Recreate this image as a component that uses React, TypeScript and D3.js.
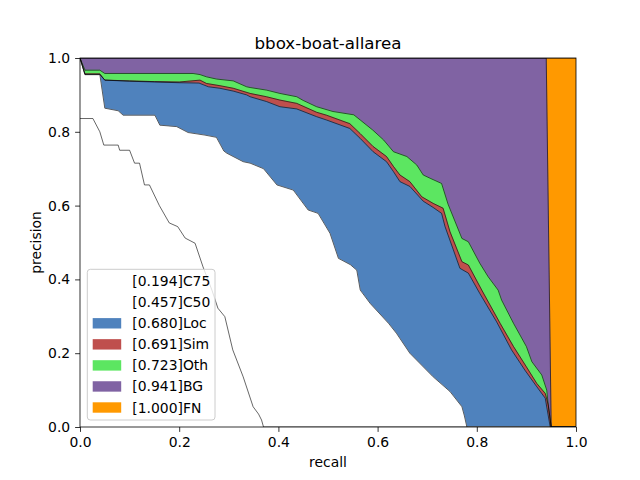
import React, { useRef, useEffect } from 'react';
import * as d3 from 'd3';

type Pt = [number, number];

// [recall, precision] points, cumulative curves
const c75: Pt[] = [
  [0, 0.836], [0.026, 0.836], [0.04, 0.8], [0.048, 0.764], [0.077, 0.764], [0.08, 0.75],
  [0.1, 0.75], [0.11, 0.715], [0.12, 0.715], [0.13, 0.656], [0.14, 0.656], [0.16, 0.6],
  [0.18, 0.553], [0.197, 0.543], [0.212, 0.512], [0.232, 0.498], [0.248, 0.434],
  [0.266, 0.371], [0.278, 0.322], [0.292, 0.299], [0.308, 0.209], [0.329, 0.136],
  [0.349, 0.055], [0.36, 0.035], [0.366, 0.019], [0.37, 0], [1, 0],
];
const c50: Pt[] = [
  [0, 1], [0.01, 0.955], [0.04, 0.955], [0.05, 0.864], [0.077, 0.857], [0.087, 0.845],
  [0.151, 0.845], [0.161, 0.818], [0.195, 0.814], [0.218, 0.798], [0.252, 0.791],
  [0.275, 0.785], [0.29, 0.748], [0.296, 0.742], [0.329, 0.719], [0.343, 0.715], [0.37, 0.7],
  [0.397, 0.656], [0.43, 0.642], [0.46, 0.588], [0.48, 0.579], [0.504, 0.525],
  [0.521, 0.457], [0.545, 0.44], [0.558, 0.425], [0.565, 0.371], [0.585, 0.335],
  [0.622, 0.281], [0.638, 0.254], [0.665, 0.2], [0.712, 0.136], [0.746, 0.096],
  [0.77, 0.055], [0.775, 0.03], [0.78, 0], [1, 0],
];
const loc: Pt[] = [
  [0, 1], [0.01, 0.955], [0.04, 0.955], [0.05, 0.94], [0.1, 0.937], [0.15, 0.935],
  [0.2, 0.933], [0.24, 0.932], [0.259, 0.922], [0.282, 0.918], [0.31, 0.91],
  [0.336, 0.9], [0.343, 0.895], [0.376, 0.882], [0.403, 0.868], [0.437, 0.862],
  [0.477, 0.841], [0.497, 0.832], [0.544, 0.809], [0.565, 0.782], [0.591, 0.746],
  [0.618, 0.719], [0.632, 0.692], [0.645, 0.665], [0.665, 0.652], [0.692, 0.612],
  [0.712, 0.595], [0.729, 0.579], [0.736, 0.543], [0.766, 0.43], [0.783, 0.417],
  [0.806, 0.362], [0.84, 0.285], [0.87, 0.209], [0.897, 0.154], [0.921, 0.109],
  [0.938, 0.078], [0.948, 0], [1, 0],
];
const sim: Pt[] = [
  [0, 1], [0.01, 0.957], [0.04, 0.957], [0.05, 0.94], [0.1, 0.938], [0.15, 0.936],
  [0.2, 0.935], [0.242, 0.94], [0.255, 0.931], [0.282, 0.925], [0.309, 0.918],
  [0.343, 0.904], [0.376, 0.895], [0.403, 0.886], [0.437, 0.877], [0.477, 0.853],
  [0.497, 0.845], [0.544, 0.822], [0.565, 0.795], [0.591, 0.76], [0.618, 0.733],
  [0.632, 0.706], [0.645, 0.683], [0.665, 0.665], [0.689, 0.624], [0.712, 0.606],
  [0.732, 0.593], [0.746, 0.529], [0.77, 0.448], [0.783, 0.439], [0.81, 0.371],
  [0.847, 0.281], [0.874, 0.218], [0.9, 0.163], [0.921, 0.118], [0.938, 0.091],
  [0.944, 0.06], [0.95, 0], [1, 0],
];
const oth: Pt[] = [
  [0, 1], [0.01, 0.967], [0.04, 0.967], [0.05, 0.958], [0.228, 0.958], [0.242, 0.955],
  [0.255, 0.949], [0.275, 0.943], [0.309, 0.938], [0.336, 0.922], [0.343, 0.92],
  [0.376, 0.913], [0.403, 0.904], [0.437, 0.895], [0.45, 0.885], [0.477, 0.868],
  [0.51, 0.855], [0.552, 0.846], [0.565, 0.832], [0.59, 0.805], [0.612, 0.778],
  [0.632, 0.746], [0.659, 0.733], [0.679, 0.71], [0.692, 0.683], [0.706, 0.674],
  [0.729, 0.66], [0.742, 0.604], [0.77, 0.511], [0.783, 0.502], [0.806, 0.444],
  [0.823, 0.407], [0.843, 0.371], [0.85, 0.344], [0.874, 0.281], [0.9, 0.218],
  [0.911, 0.177], [0.931, 0.141], [0.941, 0.1], [0.944, 0.06], [0.95, 0], [1, 0],
];
const bg: Pt[] = [[0, 1], [0.94, 1], [0.95, 0], [1, 0]];
const fn: Pt[] = [[0, 1], [1, 1]];

const seriesNames = ['C75', 'C50', 'Loc', 'Sim', 'Oth', 'BG', 'FN'];
const seriesScores = ['0.194', '0.457', '0.680', '0.691', '0.723', '0.941', '1.000'];
const seriesColors = ['#ffffff', '#ffffff', '#4f82bd', '#bf4f4d', '#5ce661', '#8063a3', '#ff9900'];
const curves = [c75, c50, loc, sim, oth, bg, fn];
const tickValues = [0, 0.2, 0.4, 0.6, 0.8, 1.0];

const W = 640;
const H = 480;
const FONT = 'DejaVu Sans, sans-serif';

const PRChart: React.FC = () => {
  const svgRef = useRef<SVGSVGElement | null>(null);
  const margin = { top: 58, right: 64, bottom: 53, left: 80 };

  useEffect(() => {
    if (!svgRef.current) return;
    const svg = d3.select(svgRef.current);
    svg.selectAll('*').remove();

    const x = d3.scaleLinear().domain([0, 1]).range([margin.left, W - margin.right]);
    const y = d3.scaleLinear().domain([0, 1]).range([H - margin.bottom, margin.top]);

    svg.append('defs').append('clipPath').attr('id', 'plotclip')
      .append('rect')
      .attr('x', x(0)).attr('y', y(1))
      .attr('width', x(1) - x(0)).attr('height', y(0) - y(1));

    const plot = svg.append('g').attr('clip-path', 'url(#plotclip)');

    const area = d3.area<Pt>().x(d => x(d[0])).y0(y(0)).y1(d => y(d[1]));
    const line = d3.line<Pt>().x(d => x(d[0])).y(d => y(d[1]));

    // painter's order: largest cumulative curve first
    for (let k = curves.length - 1; k >= 0; k--) {
      plot.append('path')
        .attr('d', area(curves[k])!)
        .attr('fill', seriesColors[k])
        .attr('stroke', seriesColors[k])
        .attr('stroke-width', 0.6);
    }
    curves.forEach(c => {
      plot.append('path')
        .attr('d', line(c)!)
        .attr('fill', 'none')
        .attr('stroke', '#000')
        .attr('stroke-width', 0.6);
    });

    // axes
    const fmt = d3.format('.1f');
    const xAxis = svg.append('g')
      .attr('transform', `translate(0,${y(0)})`)
      .call(d3.axisBottom(x).tickValues(tickValues).tickFormat(d => fmt(d as number)).tickSize(4.9).tickPadding(4.9));
    const yAxis = svg.append('g')
      .attr('transform', `translate(${x(0)},0)`)
      .call(d3.axisLeft(y).tickValues(tickValues).tickFormat(d => fmt(d as number)).tickSize(4.9).tickPadding(4.9));
    [xAxis, yAxis].forEach(a => {
      a.select('.domain').remove();
      a.selectAll('line').attr('stroke', '#000').attr('stroke-width', 0.8);
      a.selectAll('text').attr('font-family', FONT).attr('font-size', 13.9).attr('fill', '#000');
    });

    svg.append('rect')
      .attr('x', x(0)).attr('y', y(1))
      .attr('width', x(1) - x(0)).attr('height', y(0) - y(1))
      .attr('fill', 'none').attr('stroke', '#000').attr('stroke-width', 0.8);

    svg.append('text')
      .attr('x', (x(0) + x(1)) / 2).attr('y', 49)
      .attr('text-anchor', 'middle')
      .attr('font-family', FONT).attr('font-size', 16.7)
      .text('bbox-boat-allarea');

    svg.append('text')
      .attr('x', (x(0) + x(1)) / 2).attr('y', 467)
      .attr('text-anchor', 'middle')
      .attr('font-family', FONT).attr('font-size', 13.9)
      .text('recall');

    svg.append('text')
      .attr('transform', `translate(41,${(y(0) + y(1)) / 2}) rotate(-90)`)
      .attr('text-anchor', 'middle')
      .attr('font-family', FONT).attr('font-size', 13.9)
      .text('precision');

    // legend
    const legend = svg.append('g');
    legend.append('rect')
      .attr('x', 87.3).attr('y', 269.3)
      .attr('width', 127.7).attr('height', 150.7)
      .attr('rx', 3).attr('ry', 3)
      .attr('fill', '#fff').attr('fill-opacity', 0.8)
      .attr('stroke', '#cccccc').attr('stroke-width', 1);

    seriesNames.forEach((name, i) => {
      const cy = 281.2 + i * 21.05;
      legend.append('rect')
        .attr('x', 92.7).attr('y', cy - 5.2)
        .attr('width', 28.5).attr('height', 10.4)
        .attr('fill', seriesColors[i]);
      legend.append('text')
        .attr('x', 132.3).attr('y', cy)
        .attr('dy', '0.36em')
        .attr('font-family', FONT).attr('font-size', 13.9)
        .text(`[${seriesScores[i]}]${name}`);
    });
  }, []);

  return <svg ref={svgRef} width={W} height={H} style={{ display: 'block', background: '#fff' }}></svg>;
};

export default function App() {
  return (
    <div style={{ position: 'fixed', left: 0, top: 0 }}>
      <PRChart />
    </div>
  );
}
